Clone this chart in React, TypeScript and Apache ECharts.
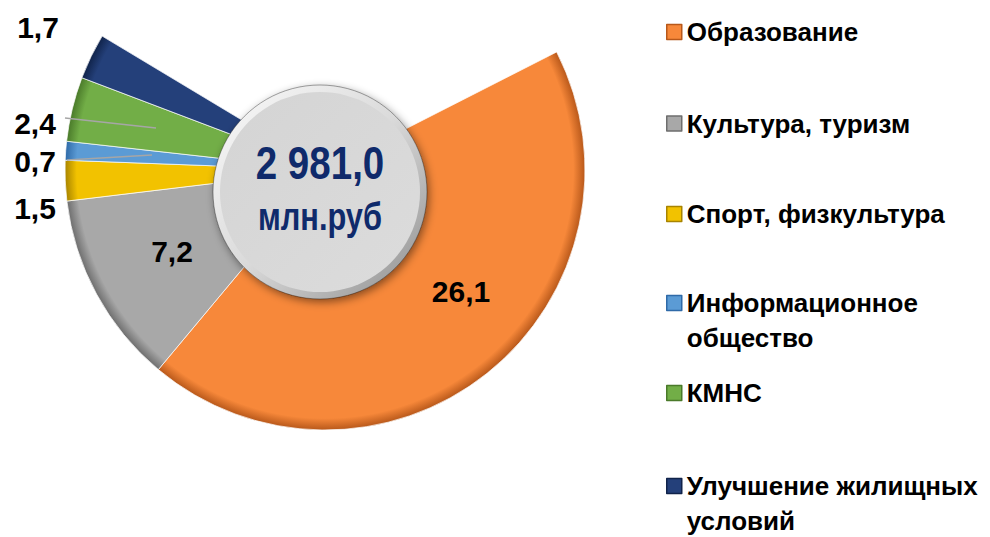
import React, { useEffect, useRef } from "react";
import * as echarts from "echarts";

// ---- data ----
const categories = [
  "Образование",
  "Культура, туризм",
  "Спорт, физкультура",
  "Информационное общество",
  "КМНС",
  "Улучшение жилищных условий",
];
const values = [26.1, 7.2, 1.5, 0.7, 2.4, 1.7];
const totalText = "2 981,0";
const unitText = "млн.руб";

// ---- styles / layout ----
const colors = ["#F7883A", "#A8A8A8", "#F2C200", "#5B9BD5", "#72AE47", "#24407A"];
const edgeColors = ["#B8581A", "#6E6E6E", "#A88400", "#2F6AA8", "#4A7A2A", "#10234A"];
const legendWrap: Record<string, string> = {
  "Информационное общество": "Информационное\nобщество",
  "Улучшение жилищных условий": "Улучшение жилищных\nусловий",
};
const FONT = "'Liberation Sans Narrow', 'Arial Narrow', 'Liberation Sans', Arial, sans-serif";
const PIE_CX = 325;
const PIE_CY = 170;
const PIE_R = 260;
const START = 27;
const SWEEP = 238;
const labelPos: [number, number][] = [
  [461, 291],
  [172, 251],
  [35, 208],
  [35, 161],
  [35, 123],
  [38, 27],
];
const legendIconY = [32, 123.5, 214, 303, 393, 486];
const LEG_LH = 35;

const fmt = (v: number) => v.toFixed(1).replace(".", ",");

export default function App() {
  const ref = useRef<HTMLDivElement>(null);
  useEffect(() => {
    if (!ref.current) return;
    const chart = echarts.init(ref.current, undefined, { renderer: "svg" });

    const data = categories.map((name, i) => ({
      name,
      value: values[i],
      itemStyle: {
        color: new echarts.graphic.RadialGradient(
          PIE_CX,
          PIE_CY,
          PIE_R,
          [
            { offset: 0, color: colors[i] },
            { offset: 0.955, color: colors[i] },
            { offset: 1, color: edgeColors[i] },
          ],
          true
        ),
      },
    }));

    const legends = categories.map((name, i) => {
      const multi = !!legendWrap[name];
      return {
        show: true,
        orient: "vertical",
        left: 666,
        top: multi ? legendIconY[i] - 1.5 * LEG_LH : legendIconY[i] - LEG_LH / 2,
        padding: 0,
        itemWidth: 15,
        itemHeight: 15,
        icon: "rect",
        selectedMode: false,
        formatter: (n: string) => (legendWrap[n] ? " \n" + legendWrap[n] : n),
        data: [
          {
            name,
            itemStyle: { color: colors[i], borderColor: edgeColors[i], borderWidth: 1.5 },
          },
        ],
        textStyle: {
          fontFamily: FONT,
          fontWeight: "bold",
          fontSize: 26,
          lineHeight: LEG_LH,
          color: "#000",
        },
      };
    });

    chart.setOption({
      animation: false,
      backgroundColor: "#fff",
      legend: legends,
      series: [
        {
          type: "pie",
          center: [PIE_CX, PIE_CY],
          radius: [0, PIE_R],
          startAngle: START,
          endAngle: START - SWEEP,
          clockwise: true,
          silent: true,
          avoidLabelOverlap: false,
          itemStyle: { borderColor: "rgba(255,255,255,0.7)", borderWidth: 1 },
          label: {
            show: true,
            position: "inside",
            formatter: (p: any) => fmt(p.value),
            fontFamily: FONT,
            fontWeight: "bold",
            fontSize: 30,
            color: "#000",
          },
          labelLine: { show: false },
          labelLayout: (p: any) => ({
            x: labelPos[p.dataIndex][0],
            y: labelPos[p.dataIndex][1],
            align: "center",
            verticalAlign: "middle",
          }),
          data,
        },
      ],
      graphic: [
        {
          type: "line",
          z: 20,
          shape: { x1: 65, y1: 118, x2: 156, y2: 128 },
          style: { stroke: "#A6A6A6", lineWidth: 1.5 },
        },
        {
          type: "line",
          z: 20,
          shape: { x1: 67, y1: 160, x2: 152, y2: 155 },
          style: { stroke: "#A6A6A6", lineWidth: 1.5 },
        },
        {
          type: "circle",
          z: 30,
          shape: { cx: 320, cy: 192, r: 107 },
          style: {
            fill: new echarts.graphic.LinearGradient(0, 0, 1, 1, [
              { offset: 0, color: "#FBFBFB" },
              { offset: 0.5, color: "#DADADA" },
              { offset: 1, color: "#8C8C8C" },
            ]),
            stroke: "rgba(0,0,0,0.35)",
            lineWidth: 1,
            shadowBlur: 8,
            shadowColor: "rgba(0,0,0,0.45)",
            shadowOffsetX: 2,
            shadowOffsetY: 3,
          },
        },
        {
          type: "circle",
          z: 31,
          shape: { cx: 320, cy: 192, r: 100 },
          style: {
            fill: new echarts.graphic.LinearGradient(0, 0, 1, 1, [
              { offset: 0, color: "#D4D4D4" },
              { offset: 1, color: "#DCDCDC" },
            ]),
          },
        },
        {
          type: "text",
          z: 32,
          x: 320,
          y: 163,
          scaleX: 0.82,
          style: {
            text: totalText,
            fill: "#0F2A6B",
            font: `bold 47px ${FONT}`,
            align: "center",
            verticalAlign: "middle",
          },
        },
        {
          type: "text",
          z: 32,
          x: 320,
          y: 217,
          scaleX: 0.81,
          style: {
            text: unitText,
            fill: "#0F2A6B",
            font: `bold 38px ${FONT}`,
            align: "center",
            verticalAlign: "middle",
          },
        },
      ],
    });
    return () => chart.dispose();
  }, []);
  return (
    <div
      ref={ref}
      style={{ position: "fixed", left: 0, top: 0, width: 990, height: 537, background: "#fff" }}
    />
  );
}
